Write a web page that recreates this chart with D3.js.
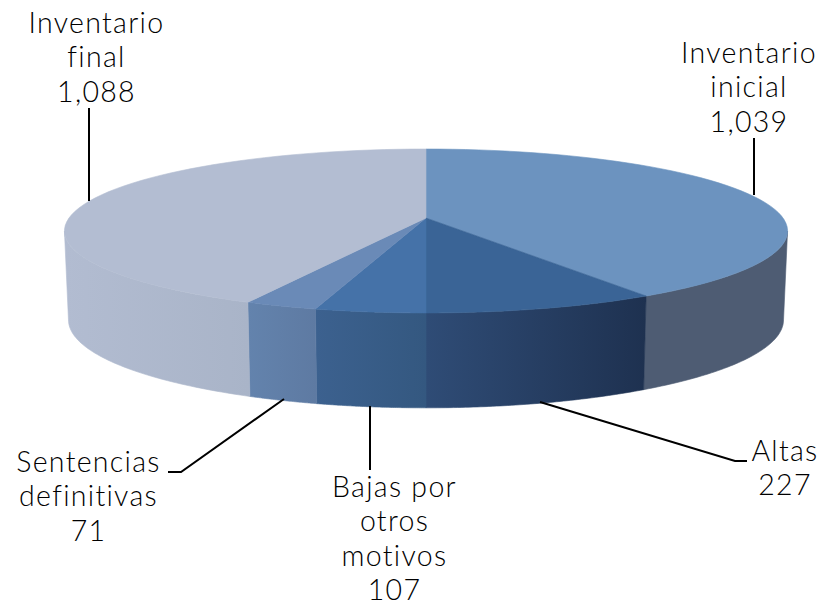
<!DOCTYPE html>
<html><head><meta charset="utf-8">
<script src="https://cdn.jsdelivr.net/npm/d3@7"></script>
<style>html,body{margin:0;padding:0;background:#fff}svg{display:block}text{font-family:Lato,sans-serif;font-weight:300;font-size:28.5px;letter-spacing:1.3px;fill:#000;text-anchor:middle}</style>
</head><body><svg id="c" width="823" height="605"></svg>
<script>
const categories=["Inventario inicial","Altas","Bajas por otros motivos","Sentencias definitivas","Inventario final"];
const values=[1039,227,107,71,1088];
const valueLabels=["1,039","227","107","71","1,088"];
const labelLines=[["Inventario","inicial"],["Altas"],["Bajas por","otros","motivos"],["Sentencias","definitivas"],["Inventario","final"]];
const topColors=["#6c93bf","#3a6496","#4572a8","#6a8ab7","#b3bdd2"];
const sideFrom=["#4e5c73","#2f4c76","#3c618f","#6383ad","#b2bcd1"];
const sideTo=["#4e5c73","#1e3150","#345880","#5e7aa2","#a9b4c8"];
const labelX=[749,785,394.5,88.5,96.5];
const labelBase=[63,461,497,472,33];
const leaders=[[[754,195],[754,138]],[[540,402],[735,461],[747,461]],[[370,406],[370,470]],[[284,399],[181,472],[168,472]],[[89,201],[89,108]]];

const svg=d3.select("#c");
const cx=426,k=0.1585;
const topRim={b:357,y0:218,a:79.9}, botRim={b:353,y0:306,a:85.7};
function proj(p,t){const u=Math.sin(t),v=-Math.cos(t),w=1-k*v;return [cx+p.b*u/w,p.y0+p.a*v/w];}
const arcs=d3.pie().sort(null).startAngle(0).endAngle(2*Math.PI)(values);
const line=d3.line();
const samples=(a,b)=>d3.range(0,61).map(i=>a+(b-a)*i/60);
const defs=svg.append("defs");
arcs.forEach((d,i)=>{
  const g=defs.append("linearGradient").attr("id","s"+i);
  g.append("stop").attr("offset",0).attr("stop-color",sideFrom[i]);
  g.append("stop").attr("offset",1).attr("stop-color",sideTo[i]);
});
const front0=Math.acos(-k), front1=2*Math.PI-front0;
arcs.forEach((d,i)=>{
  const a=Math.max(d.startAngle,front0),b=Math.min(d.endAngle,front1);
  if(b<=a)return;
  const ts=samples(a,b);
  const pts=ts.map(t=>proj(topRim,t)).concat(ts.slice().reverse().map(t=>proj(botRim,t)));
  svg.append("path").attr("d",line(pts)+"Z").attr("fill",`url(#s${i})`).attr("stroke",`url(#s${i})`).attr("stroke-width",0.6);
});
arcs.forEach((d,i)=>{
  const pts=[[cx,topRim.y0]].concat(samples(d.startAngle,d.endAngle).map(t=>proj(topRim,t)));
  svg.append("path").attr("d",line(pts)+"Z").attr("fill",topColors[i]).attr("stroke",topColors[i]).attr("stroke-width",0.6);
});
leaders.forEach(l=>svg.append("path").attr("d",line(l)).attr("fill","none").attr("stroke","#000").attr("stroke-width",2));
categories.forEach((c,i)=>{
  const ls=labelLines[i].concat(valueLabels[i]);
  ls.forEach((s,j)=>svg.append("text").attr("x",labelX[i]).attr("y",labelBase[i]+j*34.4).text(s));
});
</script></body></html>
